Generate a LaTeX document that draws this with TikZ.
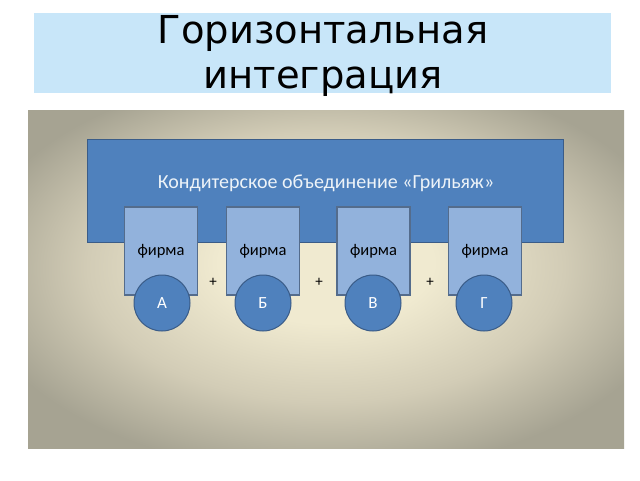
\documentclass[tikz,border=0pt]{standalone}
\usepackage{fontspec}
\usepackage{xcolor}
\newfontfamily\titlefont{DejaVu Sans}
\newfontfamily\bodyfont{Carlito}
\definecolor{bandblue}{RGB}{200,230,249}
\definecolor{unionblue}{RGB}{79,129,189}
\definecolor{unionedge}{RGB}{58,92,136}
\definecolor{firmblue}{RGB}{146,178,220}
\definecolor{firmedge}{RGB}{84,108,140}
\definecolor{warmlight}{RGB}{240,234,208}
\definecolor{warmmid}{RGB}{210,204,182}
\definecolor{warmgrey}{RGB}{166,163,146}
\pgfdeclareradialshading{panelglow}{\pgfpoint{0bp}{3bp}}{%
  color(0bp)=(warmlight); color(9bp)=(warmlight); color(20bp)=(warmmid);
  color(30bp)=(warmgrey); color(50bp)=(warmgrey)}
\tikzset{
  titleline/.style={anchor=base, font=\titlefont\fontsize{38.5}{38.5}\selectfont},
  firmbox/.style={draw=firmedge, fill=firmblue, line width=1.5pt,
    minimum width=73pt, minimum height=88pt, inner sep=0pt,
    font=\bodyfont\fontsize{16.5}{16.5}\selectfont},
  lettercirc/.style={circle, draw=unionedge, fill=unionblue, line width=1pt,
    minimum size=56pt, inner sep=0pt, text=white,
    font=\bodyfont\fontsize{17}{17}\selectfont},
  plussign/.style={font=\bodyfont\fontsize{15}{15}\selectfont}
}
\begin{document}
\begin{tikzpicture}[x=1pt,y=-1pt]
        \useasboundingbox (0,0) rectangle (640,480);
        \fill[white] (0,0) rectangle (640,480);
        % title
        \fill[bandblue] (34,13) rectangle (611,93);
        \node[titleline](title1) at (323,43) {Горизонтальная};
        \node[titleline](title2) at (323,88) {интеграция};
        % background panel
        \shade[shading=panelglow] (28,110) rectangle (624,448);
        % union
        \node[draw=unionedge, fill=unionblue, line width=1.5pt, minimum width=476pt,
          minimum height=103pt](union) at (325.5,191) {};
        \node[text=white!90!unionblue](unionlabel) at (326,183)
          {\bodyfont\fontsize{20}{20}\selectfont Кондитерское объединение «Грильяж»};
        % firms
        \node[firmbox](firmA) at (161,251) {фирма};
        \node[firmbox](firmB) at (263,251) {фирма};
        \node[firmbox](firmV) at (373.5,251) {фирма};
        \node[firmbox](firmG) at (485,251) {фирма};
        \node[lettercirc](a) at (162,303) {А};
        \node[lettercirc](b) at (263,303) {Б};
        \node[lettercirc](v) at (373,303) {В};
        \node[lettercirc](g) at (484,303) {Г};
        \node[plussign](p1) at (213,282) {+};
        \node[plussign](p2) at (319,282) {+};
        \node[plussign](p3) at (430,282) {+};
        \end{tikzpicture}
\end{document}
